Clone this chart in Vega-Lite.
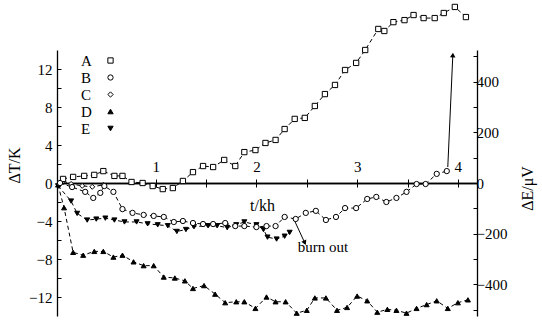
{
  "$schema": "https://vega.github.io/schema/vega-lite/v6.json",
  "width": 420,
  "height": 266,
  "autosize": {"type": "none"},
  "padding": {"left": 57, "top": 50, "right": 65, "bottom": 10},
  "background": "white",
  "datasets": {
    "uv": [
      {"t": 0.08, "v": 16, "s": "A"}, {"t": 0.18, "v": 24, "s": "A"}, {"t": 0.29, "v": 28, "s": "A"}, {"t": 0.39, "v": 32, "s": "A"},
      {"t": 0.48, "v": 47, "s": "A"}, {"t": 0.59, "v": 28, "s": "A"}, {"t": 0.67, "v": 28, "s": "A"}, {"t": 0.76, "v": 4, "s": "A"},
      {"t": 0.87, "v": 0, "s": "A"}, {"t": 0.97, "v": -12, "s": "A"}, {"t": 1.07, "v": -24, "s": "A"}, {"t": 1.17, "v": -20, "s": "A"},
      {"t": 1.27, "v": 8, "s": "A"}, {"t": 1.37, "v": 43, "s": "A"}, {"t": 1.47, "v": 67, "s": "A"}, {"t": 1.57, "v": 63, "s": "A"},
      {"t": 1.68, "v": 91, "s": "A"}, {"t": 1.79, "v": 67, "s": "A"}, {"t": 1.88, "v": 122, "s": "A"}, {"t": 1.99, "v": 130, "s": "A"},
      {"t": 2.09, "v": 158, "s": "A"}, {"t": 2.19, "v": 170, "s": "A"}, {"t": 2.28, "v": 213, "s": "A"}, {"t": 2.38, "v": 253, "s": "A"},
      {"t": 2.48, "v": 257, "s": "A"}, {"t": 2.58, "v": 304, "s": "A"}, {"t": 2.68, "v": 351, "s": "A"}, {"t": 2.78, "v": 387, "s": "A"},
      {"t": 2.88, "v": 446, "s": "A"}, {"t": 2.99, "v": 474, "s": "A"}, {"t": 3.08, "v": 525, "s": "A"}, {"t": 3.21, "v": 608, "s": "A"},
      {"t": 3.27, "v": 600, "s": "A"}, {"t": 3.36, "v": 635, "s": "A"}, {"t": 3.47, "v": 643, "s": "A"}, {"t": 3.56, "v": 663, "s": "A"},
      {"t": 3.66, "v": 651, "s": "A"}, {"t": 3.77, "v": 651, "s": "A"}, {"t": 3.86, "v": 671, "s": "A"}, {"t": 3.97, "v": 695, "s": "A"},
      {"t": 4.08, "v": 655, "s": "A"},
      {"t": 0.05, "v": 0, "s": "B"}, {"t": 0.17, "v": -16, "s": "B"}, {"t": 0.30, "v": -35, "s": "B"}, {"t": 0.38, "v": -59, "s": "B"},
      {"t": 0.45, "v": -39, "s": "B"}, {"t": 0.49, "v": -12, "s": "B"}, {"t": 0.58, "v": -35, "s": "B"}, {"t": 0.67, "v": -103, "s": "B"},
      {"t": 0.77, "v": -118, "s": "B"}, {"t": 0.88, "v": -126, "s": "B"}, {"t": 0.98, "v": -130, "s": "B"}, {"t": 1.08, "v": -134, "s": "B"},
      {"t": 1.18, "v": -154, "s": "B"}, {"t": 1.27, "v": -150, "s": "B"}, {"t": 1.37, "v": -158, "s": "B"}, {"t": 1.47, "v": -162, "s": "B"},
      {"t": 1.57, "v": -162, "s": "B"}, {"t": 1.69, "v": -158, "s": "B"}, {"t": 1.79, "v": -170, "s": "B"}, {"t": 1.88, "v": -170, "s": "B"},
      {"t": 2.00, "v": -174, "s": "B"}, {"t": 2.10, "v": -170, "s": "B"}, {"t": 2.19, "v": -170, "s": "B"}, {"t": 2.28, "v": -134, "s": "B"},
      {"t": 2.39, "v": -142, "s": "B"}, {"t": 2.49, "v": -118, "s": "B"}, {"t": 2.59, "v": -110, "s": "B"}, {"t": 2.69, "v": -146, "s": "B"},
      {"t": 2.79, "v": -134, "s": "B"}, {"t": 2.88, "v": -99, "s": "B"}, {"t": 2.99, "v": -99, "s": "B"}, {"t": 3.10, "v": -63, "s": "B"},
      {"t": 3.19, "v": -55, "s": "B"}, {"t": 3.29, "v": -75, "s": "B"}, {"t": 3.39, "v": -59, "s": "B"}, {"t": 3.49, "v": -35, "s": "B"},
      {"t": 3.59, "v": -4, "s": "B"}, {"t": 3.68, "v": -4, "s": "B"}, {"t": 3.79, "v": 36, "s": "B"}, {"t": 3.89, "v": 47, "s": "B"}
    ],
    "k": [
      {"t": 0.08, "v": 0.2, "s": "C"}, {"t": 0.16, "v": -0.1, "s": "C"}, {"t": 0.27, "v": -0.3, "s": "C"}, {"t": 0.37, "v": -0.4, "s": "C"},
      {"t": 0.48, "v": -0.2, "s": "C"},
      {"t": 0.03, "v": -0.2, "s": "D"}, {"t": 0.09, "v": -2.6, "s": "D"}, {"t": 0.18, "v": -7.3, "s": "D"}, {"t": 0.28, "v": -7.6, "s": "D"},
      {"t": 0.39, "v": -7.2, "s": "D"}, {"t": 0.48, "v": -7.2, "s": "D"}, {"t": 0.58, "v": -7.8, "s": "D"}, {"t": 0.67, "v": -7.6, "s": "D"},
      {"t": 0.78, "v": -8.3, "s": "D"}, {"t": 0.88, "v": -8.7, "s": "D"}, {"t": 0.98, "v": -8.7, "s": "D"}, {"t": 1.08, "v": -9.9, "s": "D"},
      {"t": 1.19, "v": -10.0, "s": "D"}, {"t": 1.29, "v": -10.3, "s": "D"}, {"t": 1.37, "v": -11.1, "s": "D"}, {"t": 1.48, "v": -10.8, "s": "D"},
      {"t": 1.59, "v": -11.7, "s": "D"}, {"t": 1.69, "v": -12.6, "s": "D"}, {"t": 1.80, "v": -12.5, "s": "D"}, {"t": 1.88, "v": -12.5, "s": "D"},
      {"t": 1.99, "v": -13.2, "s": "D"}, {"t": 2.10, "v": -12.0, "s": "D"}, {"t": 2.19, "v": -12.5, "s": "D"}, {"t": 2.29, "v": -12.5, "s": "D"},
      {"t": 2.40, "v": -13.7, "s": "D"}, {"t": 2.50, "v": -13.4, "s": "D"}, {"t": 2.58, "v": -12.1, "s": "D"}, {"t": 2.69, "v": -12.1, "s": "D"},
      {"t": 2.80, "v": -13.4, "s": "D"}, {"t": 2.90, "v": -13.1, "s": "D"}, {"t": 3.00, "v": -11.9, "s": "D"}, {"t": 3.10, "v": -12.4, "s": "D"},
      {"t": 3.20, "v": -13.6, "s": "D"}, {"t": 3.30, "v": -13.3, "s": "D"}, {"t": 3.39, "v": -13.4, "s": "D"}, {"t": 3.49, "v": -13.7, "s": "D"},
      {"t": 3.59, "v": -13.2, "s": "D"}, {"t": 3.69, "v": -12.8, "s": "D"}, {"t": 3.79, "v": -12.4, "s": "D"}, {"t": 3.90, "v": -13.2, "s": "D"},
      {"t": 4.00, "v": -12.6, "s": "D"}, {"t": 4.10, "v": -12.3, "s": "D"},
      {"t": 0.03, "v": -0.3, "s": "E"}, {"t": 0.16, "v": -1.9, "s": "E"}, {"t": 0.22, "v": -3.2, "s": "E"}, {"t": 0.32, "v": -3.9, "s": "E"},
      {"t": 0.41, "v": -3.8, "s": "E"}, {"t": 0.50, "v": -3.7, "s": "E"}, {"t": 0.59, "v": -3.9, "s": "E"}, {"t": 0.69, "v": -4.1, "s": "E"},
      {"t": 0.81, "v": -4.1, "s": "E"}, {"t": 0.92, "v": -4.3, "s": "E"}, {"t": 1.02, "v": -4.4, "s": "E"}, {"t": 1.12, "v": -4.5, "s": "E"},
      {"t": 1.21, "v": -5.1, "s": "E"}, {"t": 1.30, "v": -4.9, "s": "E"}, {"t": 1.38, "v": -4.6, "s": "E"}, {"t": 1.52, "v": -4.5, "s": "E"},
      {"t": 1.61, "v": -4.5, "s": "E"}, {"t": 1.71, "v": -4.7, "s": "E"}, {"t": 1.80, "v": -4.4, "s": "E"}, {"t": 1.88, "v": -4.1, "s": "E"},
      {"t": 2.00, "v": -4.4, "s": "E"}, {"t": 2.07, "v": -4.9, "s": "E"}, {"t": 2.11, "v": -5.7, "s": "E"}, {"t": 2.20, "v": -5.9, "s": "E"},
      {"t": 2.28, "v": -5.6, "s": "E"}, {"t": 2.33, "v": -5.2, "s": "E"}
    ],
    "arrowK": [{"t": 2.38, "v": -4.0, "t2": 2.48, "v2": -6.3}],
    "headK": [{"t": 2.48, "v": -6.3}],
    "noteK": [{"t": 2.66, "v": -6.7, "label": "burn out"}],
    "arrowUV": [{"t": 3.90, "v": 63, "t2": 3.95, "v2": 505}],
    "headUV": [{"t": 3.95, "v": 505}]
  },
  "layer": [
    {
      "encoding": {
        "x": {
          "field": "t", "type": "quantitative",
          "scale": {"domain": [0.02, 4.19], "nice": false, "zero": false},
          "axis": {
            "orient": "bottom", "offset": -133, "values": [1, 1.5, 2, 2.5, 3, 3.5, 4],
            "labels": false, "tickSize": 4, "domainWidth": 1.6,
            "title": "t/kh", "titleX": 205, "titleY": 22, "titleAlign": "center", "titleBaseline": "middle", "titleAngle": 0
          }
        },
        "y": {
          "field": "v", "type": "quantitative",
          "scale": {"domain": [-14, 14], "nice": false, "zero": false},
          "axis": {
            "orient": "left", "values": [-12, -10, -8, -6, -4, -2, 0, 2, 4, 6, 8, 10, 12],
            "labelExpr": "datum.value % 4 === 0 ? datum.label : ''",
            "tickSize": -4, "labelPadding": 9,
            "title": "ΔT/K", "titleX": -43, "titleY": 115, "titleAngle": 270, "titleAlign": "center", "titleBaseline": "middle"
          }
        }
      },
      "layer": [
        {
          "data": {"name": "k"},
          "mark": {"type": "line", "stroke": "black", "strokeWidth": 1, "strokeDash": [4, 3]},
          "encoding": {"detail": {"field": "s"}}
        },
        {
          "data": {"name": "k"},
          "mark": {"type": "point", "filled": true, "strokeWidth": 1, "opacity": 1, "size": 25},
          "encoding": {
            "shape": {"field": "s", "type": "nominal", "scale": {"domain": ["A", "B", "C", "D", "E"], "range": ["square", "circle", "diamond", "triangle-up", "triangle-down"]}, "legend": {"title": null}},
            "fill": {"field": "s", "type": "nominal", "scale": {"domain": ["A", "B", "C", "D", "E"], "range": ["white", "white", "white", "black", "black"]}, "legend": {"title": null}},
            "stroke": {"field": "s", "type": "nominal", "scale": {"domain": ["A", "B", "C", "D", "E"], "range": ["black", "black", "black", "black", "black"]}, "legend": {"title": null}}
          }
        },
        {
          "data": {"name": "arrowK"},
          "mark": {"type": "rule", "stroke": "black", "strokeWidth": 1},
          "encoding": {"x2": {"field": "t2"}, "y2": {"field": "v2"}}
        },
        {
          "data": {"name": "headK"},
          "mark": {"type": "point", "shape": "triangle-down", "angle": -24, "filled": true, "fill": "black", "stroke": null, "opacity": 1, "size": 30},
          "encoding": {}
        },
        {
          "data": {"name": "noteK"},
          "mark": {"type": "text", "font": "Liberation Serif", "fontSize": 15, "color": "black", "align": "center", "baseline": "middle"},
          "encoding": {"text": {"field": "label"}}
        }
      ]
    },
    {
      "encoding": {
        "x": {
          "field": "t", "type": "quantitative",
          "scale": {"domain": [0.02, 4.19], "nice": false, "zero": false},
          "axis": {
            "orient": "top", "offset": -133, "values": [1, 1.5, 2, 2.5, 3, 3.5, 4],
            "labelExpr": "datum.value % 1 === 0 ? format(datum.value, 'd') : ''",
            "tickSize": 4, "labelPadding": 5, "domainWidth": 1.6, "title": null
          }
        },
        "y": {
          "field": "v", "type": "quantitative",
          "scale": {"domain": [-525, 525], "nice": false, "zero": false},
          "axis": {
            "orient": "right", "values": [-500, -400, -300, -200, -100, 0, 100, 200, 300, 400, 500],
            "labelExpr": "datum.value % 200 === 0 ? datum.label : ''",
            "tickSize": -4, "labelPadding": 3,
            "title": "ΔE/μV", "titleX": 50, "titleY": 138, "titleAngle": 270, "titleAlign": "center", "titleBaseline": "middle"
          }
        }
      },
      "layer": [
        {
          "data": {"name": "uv"},
          "mark": {"type": "line", "stroke": "black", "strokeWidth": 1, "strokeDash": [4, 3]},
          "encoding": {"detail": {"field": "s"}}
        },
        {
          "data": {"name": "uv"},
          "mark": {"type": "point", "filled": true, "strokeWidth": 1, "opacity": 1, "size": 28},
          "encoding": {
            "shape": {"field": "s", "type": "nominal", "scale": {"domain": ["A", "B", "C", "D", "E"], "range": ["square", "circle", "diamond", "triangle-up", "triangle-down"]}, "legend": {"title": null}},
            "fill": {"field": "s", "type": "nominal", "scale": {"domain": ["A", "B", "C", "D", "E"], "range": ["white", "white", "white", "black", "black"]}, "legend": {"title": null}},
            "stroke": {"field": "s", "type": "nominal", "scale": {"domain": ["A", "B", "C", "D", "E"], "range": ["black", "black", "black", "black", "black"]}, "legend": {"title": null}}
          }
        },
        {
          "data": {"name": "arrowUV"},
          "mark": {"type": "rule", "stroke": "black", "strokeWidth": 1},
          "encoding": {"x2": {"field": "t2"}, "y2": {"field": "v2"}}
        },
        {
          "data": {"name": "headUV"},
          "mark": {"type": "point", "shape": "triangle-up", "angle": 3, "filled": true, "fill": "black", "stroke": null, "opacity": 1, "size": 30},
          "encoding": {}
        }
      ]
    }
  ],
  "resolve": {"scale": {"y": "independent"}, "axis": {"x": "independent", "y": "independent"}},
  "config": {
    "view": {"stroke": null},
    "font": "Liberation Serif",
    "axis": {
      "domainColor": "black", "tickColor": "black", "labelColor": "black", "titleColor": "black",
      "labelFont": "Liberation Serif", "titleFont": "Liberation Serif",
      "labelFontSize": 15, "titleFontSize": 16, "titleFontWeight": "normal",
      "domainWidth": 1.3, "tickWidth": 1, "grid": false
    },
    "legend": {
      "orient": "none", "legendX": 20, "legendY": 3,
      "labelFont": "Liberation Serif", "labelFontSize": 15, "labelColor": "black",
      "symbolSize": 28, "symbolStrokeWidth": 1,
      "labelOffset": -37, "symbolOffset": 26, "rowPadding": 1
    }
  }
}
